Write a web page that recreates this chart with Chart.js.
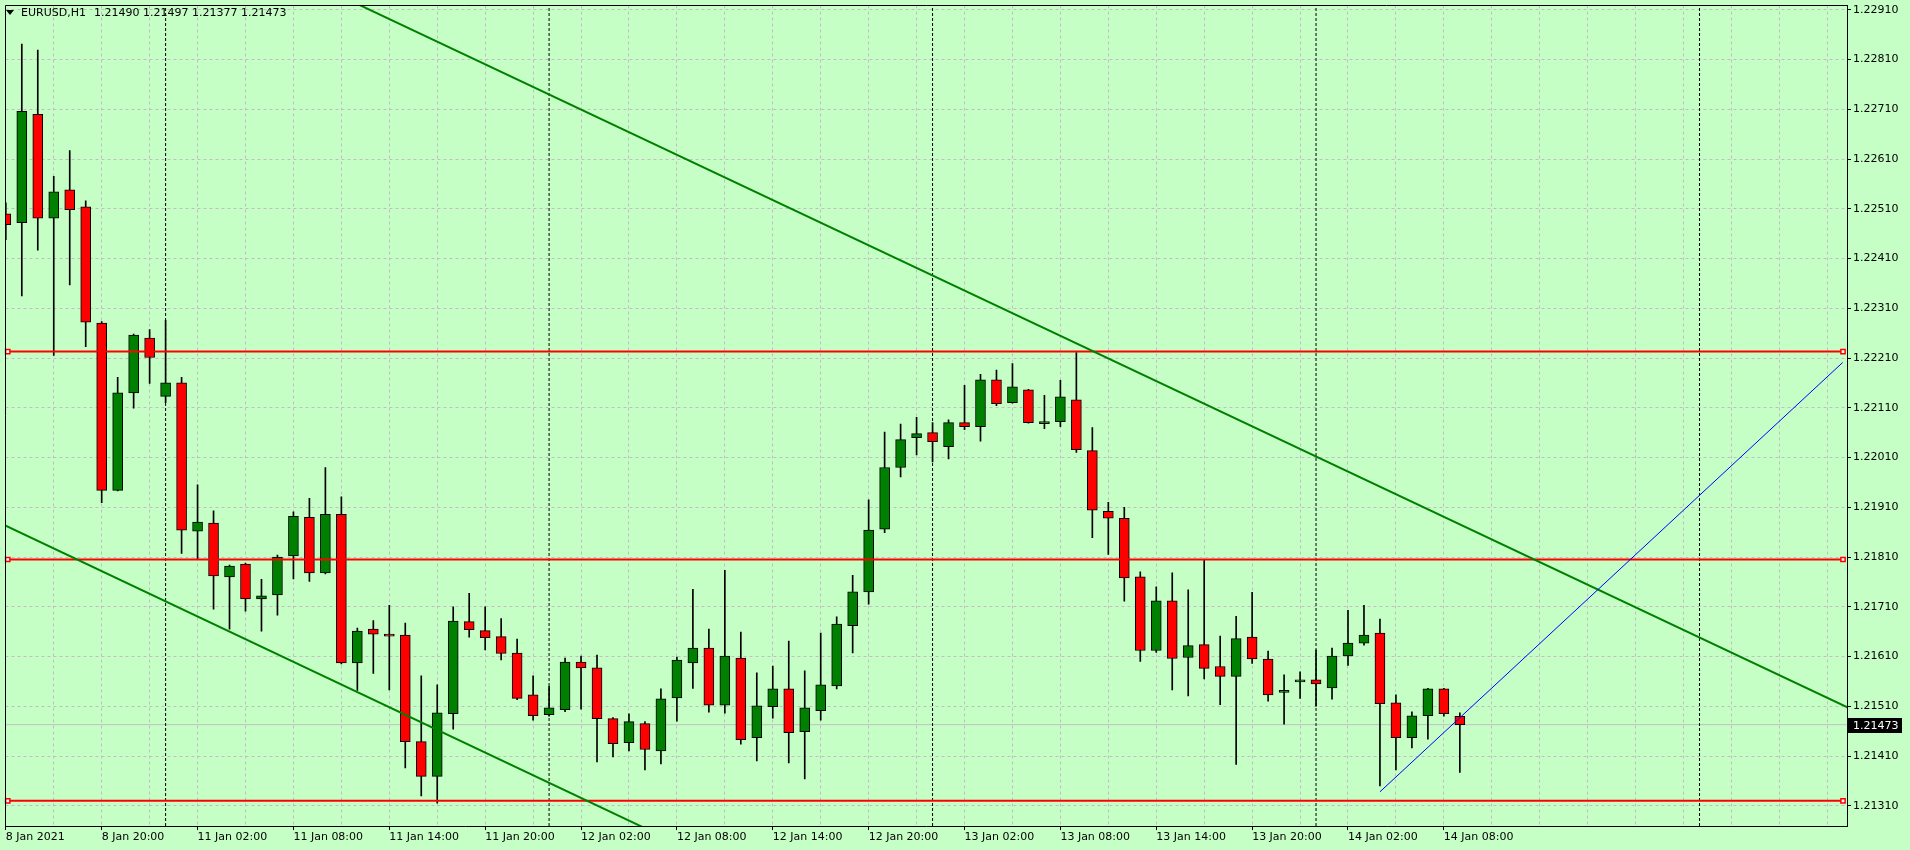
<!DOCTYPE html>
<html>
<head>
<meta charset="utf-8">
<script src="https://cdn.jsdelivr.net/npm/chart.js@4.4.1/dist/chart.umd.min.js"></script>
<style>
html,body{margin:0;padding:0;background:#c6ffc6;overflow:hidden;}
#wrap{position:relative;width:1910px;height:850px;}
canvas{display:block;}
.ttl{position:absolute;top:6px;font-family:"DejaVu Sans";font-size:11px;line-height:13px;color:#000;white-space:pre;}
#tri{position:absolute;left:6px;top:10px;width:0;height:0;border-left:4.5px solid transparent;border-right:4.5px solid transparent;border-top:5px solid #000;}
</style>
</head>
<body>
<div id="wrap">
<canvas id="c" width="1910" height="850"></canvas>
<div id="tri"></div>
<div id="sym" class="ttl" style="left:21px"></div>
<div id="ohlc" class="ttl" style="left:94px"></div>
</div>
<script>
// ---------- data (EURUSD, H1) ----------
const symbol = "EURUSD,H1";
const opens = [
1.22500,1.22482,1.22700,1.22491,1.22548,1.22514,1.22280,1.21944,1.22140,1.22250,
1.22133,1.22160,1.21862,1.21878,1.21770,1.21796,1.21726,1.21734,1.21812,1.21890,
1.21778,1.21896,1.21597,1.21665,1.21655,1.21653,1.21439,1.21369,1.21495,1.21680,
1.21662,1.21650,1.21617,1.21533,1.21493,1.21503,1.21599,1.21587,1.21485,1.21437,
1.21475,1.21420,1.21527,1.21597,1.21627,1.21512,1.21607,1.21447,1.21509,1.21545,
1.21459,1.21501,1.21551,1.21672,1.21740,1.21866,1.21990,1.22050,1.22060,1.22032,
1.22080,1.22072,1.22166,1.22120,1.22146,1.22078,1.22082,1.22126,1.22024,1.21902,
1.21888,1.21770,1.21622,1.21722,1.21608,1.21634,1.21590,1.21570,1.21649,1.21605,
1.21538,1.21559,1.21563,1.21547,1.21611,1.21637,1.21657,1.21517,1.21447,1.21491,
1.21545,1.21490];
const highs = [
1.22522,1.22841,1.22829,1.22575,1.22627,1.22526,1.22283,1.22171,1.22258,1.22267,
1.22286,1.22171,1.21955,1.21903,1.21794,1.21798,1.21765,1.21814,1.21901,1.21928,
1.21990,1.21931,1.21667,1.21682,1.21713,1.21677,1.21571,1.21553,1.21710,1.21737,
1.21710,1.21686,1.21645,1.21571,1.21550,1.21607,1.21611,1.21613,1.21487,1.21495,
1.21479,1.21545,1.21609,1.21745,1.21665,1.21783,1.21659,1.21577,1.21591,1.21641,
1.21581,1.21657,1.21690,1.21773,1.21925,1.22061,1.22077,1.22091,1.22080,1.22086,
1.22155,1.22177,1.22186,1.22199,1.22147,1.22135,1.22165,1.22221,1.22070,1.21920,
1.21910,1.21780,1.21750,1.21778,1.21744,1.21804,1.21651,1.21691,1.21739,1.21621,
1.21573,1.21579,1.21623,1.21627,1.21703,1.21713,1.21685,1.21533,1.21499,1.21546,
1.21546,1.21497];
const lows = [
1.22448,1.22335,1.22427,1.22215,1.22357,1.22233,1.21919,1.21943,1.22109,1.22159,
1.22120,1.21817,1.21805,1.21705,1.21665,1.21701,1.21661,1.21693,1.21766,1.21761,
1.21776,1.21595,1.21542,1.21576,1.21543,1.21386,1.21330,1.21315,1.21464,1.21649,
1.21623,1.21603,1.21523,1.21482,1.21490,1.21499,1.21504,1.21398,1.21408,1.21420,
1.21382,1.21394,1.21480,1.21546,1.21498,1.21496,1.21434,1.21400,1.21486,1.21396,
1.21364,1.21482,1.21545,1.21617,1.21715,1.21859,1.21971,1.22015,1.22001,1.22007,
1.22066,1.22043,1.22114,1.22119,1.22079,1.22068,1.22072,1.22020,1.21849,1.21815,
1.21721,1.21600,1.21618,1.21543,1.21531,1.21565,1.21513,1.21393,1.21596,1.21520,
1.21474,1.21526,1.21510,1.21524,1.21592,1.21633,1.21350,1.21382,1.21426,1.21444,
1.21490,1.21377];
const closes = [
1.22478,1.22706,1.22491,1.22544,1.22508,1.22282,1.21944,1.22140,1.22256,1.22211,
1.22160,1.21864,1.21880,1.21772,1.21792,1.21726,1.21732,1.21810,1.21892,1.21778,
1.21896,1.21597,1.21661,1.21655,1.21651,1.21439,1.21369,1.21497,1.21681,1.21664,
1.21648,1.21616,1.21526,1.21491,1.21507,1.21599,1.21587,1.21485,1.21435,1.21479,
1.21423,1.21525,1.21603,1.21627,1.21512,1.21611,1.21443,1.21511,1.21545,1.21457,
1.21507,1.21553,1.21675,1.21740,1.21864,1.21990,1.22046,1.22058,1.22042,1.22080,
1.22072,1.22166,1.22118,1.22152,1.22080,1.22082,1.22132,1.22026,1.21904,1.21888,
1.21768,1.21622,1.21722,1.21606,1.21632,1.21586,1.21570,1.21646,1.21605,1.21533,
1.21538,1.21562,1.21555,1.21611,1.21637,1.21653,1.21515,1.21447,1.21491,1.21545,
1.21495,1.21473];

// time axis: labels every 6 bars (bar index -> label)
const xTickIdx    = [0,6,12,18,24,30,36,42,48,54,60,66,72,78,84,90];
const xTickLabels = ["8 Jan 2021","8 Jan 20:00","11 Jan 02:00","11 Jan 08:00","11 Jan 14:00","11 Jan 20:00",
                     "12 Jan 02:00","12 Jan 08:00","12 Jan 14:00","12 Jan 20:00","13 Jan 02:00","13 Jan 08:00",
                     "13 Jan 14:00","13 Jan 20:00","14 Jan 02:00","14 Jan 08:00"];
const daySeparators = [10,34,58,82,106];
const yTicks = [1.21310,1.21410,1.21510,1.21610,1.21710,1.21810,1.21910,1.22010,1.22110,1.22210,
                1.22310,1.22410,1.22510,1.22610,1.22710,1.22810,1.22910];

// drawn objects
const levelPrices = [1.22223, 1.21805, 1.21320];
const levelX = [0.12, 114.98];
const upperTrendX = [20, 115.5];
const upperTrendY = [1.22952, 1.21504];
const lowerTrendX = [-1, 60];
const lowerTrendY = [1.21888, 1.20961];
const blueLineX = [86, 114.96];
const blueLineY = [1.21338, 1.22201];

// ---------- view ----------
const X_MIN = -0.02, X_MAX = 115.23;
const Y_MIN = 1.212693, Y_MAX = 1.229186;
const BG = '#c6ffc6', GRID = '#c4bcc4', BULL = '#008000', BEAR = '#ff0000';
const FONT = {family: 'DejaVu Sans', size: 11};

const last = closes.length - 1;
document.getElementById('sym').textContent = symbol;
document.getElementById('ohlc').textContent =
  [opens[last], highs[last], lows[last], closes[last]].map(v => v.toFixed(5)).join(' ');

const idx = opens.map((_, i) => i);
const bodyData = idx.map(i => ({x: i, y: [opens[i], closes[i]]}));
const wickData = idx.map(i => ({x: i, y: [lows[i], highs[i]]}));
const bodyColors = idx.map(i => closes[i] >= opens[i] ? BULL : BEAR);
const gridIdx = [];
for (let v = 0; v <= 114; v += 3) gridIdx.push(v);

const sepData = [];
daySeparators.forEach(s => { sepData.push({x: s, y: Y_MIN}, {x: s, y: Y_MAX}, {x: s, y: null}); });

const lineDs = (data, color, width, order, extra) => Object.assign({
  type: 'line', data, borderColor: color, borderWidth: width, pointRadius: 0,
  fill: false, tension: 0, order, spanGaps: false
}, extra || {});

const datasets = [
  lineDs([{x: X_MIN, y: closes[last]}, {x: X_MAX, y: closes[last]}], '#c0c0c0', 1, 40),
  lineDs(sepData, '#000000', 1, 35, {borderDash: [3, 2]}),
  {type: 'bar', data: wickData, backgroundColor: '#000000', borderWidth: 0,
   barThickness: 1, grouped: false, order: 20},
  {type: 'bar', data: bodyData, backgroundColor: bodyColors, borderColor: '#000000', borderWidth: 1,
   borderSkipped: false, barThickness: 10, minBarLength: 2, grouped: false, order: 10},
];
levelPrices.forEach(p => datasets.push(lineDs(levelX.map(x => ({x, y: p})), BEAR, 2, 5, {
  pointRadius: 3, pointStyle: 'rect', pointBorderColor: BEAR, pointBackgroundColor: '#ffffff',
  pointBorderWidth: 1.5, clip: 8})));
datasets.push(lineDs(upperTrendX.map((x, k) => ({x, y: upperTrendY[k]})), BULL, 2, 4));
datasets.push(lineDs(lowerTrendX.map((x, k) => ({x, y: lowerTrendY[k]})), BULL, 2, 4));
datasets.push(lineDs(blueLineX.map((x, k) => ({x, y: blueLineY[k]})), '#0000ff', 1, 3));

const framePlugin = {
  id: 'frame',
  beforeDraw(chart) {
    const ctx = chart.ctx;
    ctx.save();
    ctx.fillStyle = BG;
    ctx.fillRect(0, 0, chart.width, chart.height);
    ctx.restore();
  },
  afterDraw(chart) {
    const ctx = chart.ctx, a = chart.chartArea;
    ctx.save();
    ctx.strokeStyle = '#000';
    ctx.lineWidth = 1;
    ctx.beginPath();
    ctx.moveTo(Math.floor(a.left) + 0.5, Math.round(a.bottom));
    ctx.lineTo(Math.floor(a.left) + 0.5, Math.floor(a.top) + 0.5);
    ctx.lineTo(Math.round(a.right), Math.floor(a.top) + 0.5);
    ctx.stroke();
    // current price box on the price axis
    const y = chart.scales.y.getPixelForValue(closes[last]);
    ctx.fillStyle = '#000';
    ctx.fillRect(Math.round(a.right) + 1, Math.round(y) - 7, 54, 15);
    ctx.fillStyle = '#fff';
    ctx.font = '11px "DejaVu Sans"';
    ctx.textBaseline = 'middle';
    ctx.textAlign = 'left';
    ctx.fillText(closes[last].toFixed(5), Math.round(a.right) + 6, Math.round(y) + 1);
    ctx.restore();
  }
};

Chart.defaults.font.family = 'DejaVu Sans';
new Chart(document.getElementById('c'), {
  type: 'bar',
  data: {datasets},
  plugins: [framePlugin],
  options: {
    responsive: false, animation: false, devicePixelRatio: 1, events: [],
    layout: {padding: {left: 3, top: 3, right: 0, bottom: 0}},
    plugins: {legend: {display: false}, tooltip: {enabled: false}, title: {display: false}},
    scales: {
      x: {
        type: 'linear', min: X_MIN, max: X_MAX, offset: false, bounds: 'data',
        afterBuildTicks: s => { s.ticks = gridIdx.map(v => ({value: v})); },
        afterFit: s => { s.height = 24; s.paddingLeft = 0; s.paddingRight = 0; },
        ticks: {
          autoSkip: false, maxRotation: 0, minRotation: 0, align: 'start', padding: 1,
          font: FONT, color: '#000',
          callback: v => { const k = xTickIdx.indexOf(v); return k >= 0 ? xTickLabels[k] : ''; }
        },
        grid: {
          offset: false, color: GRID, lineWidth: 1, drawTicks: true, tickLength: 4,
          tickColor: c => (c.tick && xTickIdx.indexOf(c.tick.value) >= 0) ? '#000' : 'rgba(0,0,0,0)'
        },
        border: {display: true, color: '#000', width: 1, dash: [3, 3]}
      },
      y: {
        type: 'linear', position: 'right', min: Y_MIN, max: Y_MAX, bounds: 'data', beginAtZero: false,
        afterBuildTicks: s => { s.ticks = yTicks.map(v => ({value: v})); },
        afterFit: s => { s.width = 63; s.paddingTop = 0; s.paddingBottom = 0; },
        ticks: {font: FONT, color: '#000', padding: 2, callback: v => Number(v).toFixed(5)},
        grid: {color: GRID, lineWidth: 1, drawTicks: true, tickLength: 4, tickColor: '#000'},
        border: {display: true, color: '#000', width: 1, dash: [3, 3]}
      }
    }
  }
});
</script>
</body>
</html>
